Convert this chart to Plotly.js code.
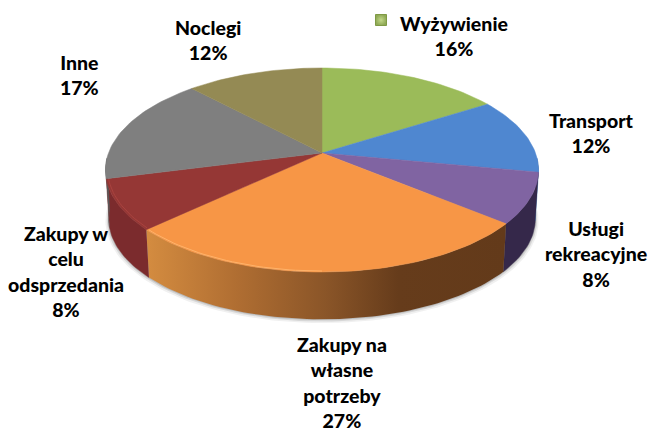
<!DOCTYPE html>
<html>
<head>
<meta charset="utf-8">
<script src="https://cdn.plot.ly/plotly-3.0.1.min.js"></script>
<style>html,body{margin:0;padding:0;background:#fff}#chart{width:649px;height:431px}</style>
</head>
<body>
<div id="chart"></div>
<script>
// Data (clockwise from 12 o'clock)
const categories = ['Wyżywienie','Transport','Usługi rekreacyjne','Zakupy na własne potrzeby','Zakupy w celu odsprzedania','Inne','Noclegi'];
const values = [16,12,8,27,8,17,12];
const topColors = ['#9bbb59','#4f87d0','#8064a2','#f79646','#953735','#7f7f7f','#948a54'];
const wallColors = ['#6b8239','#3a659c','#35284a','#8a5528','#7b2b2d','#5a5a5a','#6a623a'];
const labelLines = ['Wyżywienie<br>16%','Transport<br>12%','Usługi<br>rekreacyjne<br>8%','Zakupy na<br>własne<br>potrzeby<br>27%','Zakupy w<br>celu<br>odsprzedania<br>8%','Inne<br>17%','Noclegi<br>12%'];
const labelX = [454,591,596,342,66,79,208];
const labelY = [36,133,254,382,271,75,40];

// Perspective geometry of the tilted pie
const G = {cx:322, cy:153, A:213.5, B:99.2, k:1/6, depth:49, baseScale:0.985, wallFrom:93, wallTo:267};
const rad = d => d*Math.PI/180;
function project(deg, r, scale, dy){
  const X = r*Math.sin(rad(deg)), Y = r*Math.cos(rad(deg)), w = 1+G.k*Y;
  return [G.cx + scale*G.A*X/w, G.cy - scale*G.B*Y/w + dy];
}
function arc(a0, a1, r, scale, dy){
  const n = Math.max(2, Math.ceil(Math.abs(a1-a0)/1.5)), out = [];
  for(let i=0;i<=n;i++) out.push(project(a0+(a1-a0)*i/n, r, scale, dy));
  return out;
}
const angles = [0];
values.forEach(v => angles.push(angles[angles.length-1] + v*3.6));

const traces = [];
function poly(pts, color, extra){
  traces.push(Object.assign({type:'scatter', mode:'lines', x:pts.map(p=>p[0]), y:pts.map(p=>p[1]),
    fill:'toself', fillcolor:color, line:{width:0.5,color:color}, hoverinfo:'skip', showlegend:false}, extra||{}));
}
// soft shadow below the base
[[3.5,'rgba(0,0,0,0.06)'],[2,'rgba(0,0,0,0.10)'],[0.8,'rgba(0,0,0,0.14)']].forEach(([o,c])=>{
  poly(arc(85,275,1,G.baseScale+o/230,G.depth+o*0.6), c, {line:{width:0}});
});
// side walls
values.forEach((v,i)=>{
  const a0 = Math.max(angles[i],G.wallFrom), a1 = Math.min(angles[i+1],G.wallTo);
  if(a1<=a0) return;
  const pts = arc(a0,a1,1,1,0).concat(arc(a1,a0,1,G.baseScale,G.depth));
  const extra = {};
  if(i===3){
    extra.fillgradient = {type:'horizontal', colorscale:[[0,'#d48c40'],[0.25,'#b06e32'],[0.5,'#8a5528'],[0.7,'#663c1b'],[1,'#633a1a']]};
    extra.line = {width:0};
  }
  poly(pts, wallColors[i], extra);
});
// top face
values.forEach((v,i)=>{
  const pts = [project(0,0,1,0)].concat(arc(angles[i],angles[i+1],1,1,0));
  pts.push(pts[0]);
  poly(pts, topColors[i], {name:categories[i], text:categories[i]});
});
// bevel highlights on the front rim
[[3,'#ffb36a',180,226.3,0.993],[4,'#a9433f',227.3,255,0.99]].forEach(([i,c,a0,a1,r])=>{
  const pts = arc(a0,a1,r,1,0);
  traces.push({type:'scatter',mode:'lines',x:pts.map(p=>p[0]),y:pts.map(p=>p[1]),line:{width:1,color:c},hoverinfo:'skip',showlegend:false});
});
// legend key next to the first label
traces.push({type:'scatter',mode:'markers',x:[381],y:[20],hoverinfo:'skip',showlegend:false,
  marker:{symbol:'square',size:11,color:'#8fa955',gradient:{type:'radial',color:'#c4d98a'},line:{width:1,color:'#7f9a45'}}});

const annotations = labelLines.map((t,i)=>({text:t,x:labelX[i],y:labelY[i],xref:'x',yref:'y',showarrow:false,
  xanchor:'center',yanchor:'middle',align:'center',font:{family:'Lato, Carlito, sans-serif',size:19.5,color:'#000',weight:900}}));

Plotly.newPlot('chart',traces,{
  width:649,height:431,margin:{l:0,r:0,t:0,b:0},paper_bgcolor:'#fff',plot_bgcolor:'#fff',showlegend:false,
  xaxis:{range:[0,649],visible:false,fixedrange:true},
  yaxis:{range:[431,0],visible:false,fixedrange:true},
  annotations
},{displayModeBar:false,staticPlot:true});
</script>
</body>
</html>
